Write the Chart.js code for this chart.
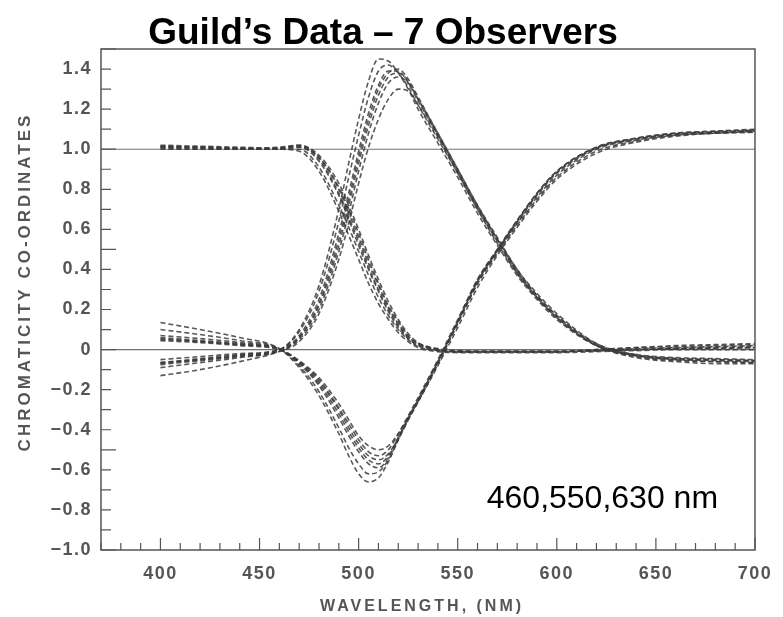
<!DOCTYPE html>
<html lang="en">
<head>
    <meta charset="UTF-8">
    <title>Guild's Data - 7 Observers</title>
    <script src="https://cdn.jsdelivr.net/npm/chart.js"></script>
    <style>
        body {
            margin: 0;
            padding: 0;
            background-color: #fff;
        }
        canvas {
            display: block;
        }
    </style>
</head>
<body>
    <canvas id="guildChart" width="783" height="617"></canvas>

    <script>
        // wavelength grid (nm) the curves were read at
        const wavelengths = [400, 420, 440, 460, 470, 480, 490, 495, 500, 505, 510, 515, 520, 525, 530,
                             540, 550, 560, 570, 580, 590, 600, 620, 640, 660, 680, 700];

        // g (550 nm primary) - one array per observer
        const g1 = [-0.05, -0.035, -0.02, 0.0, 0.10, 0.32, 0.70, 0.93, 1.15, 1.34, 1.45, 1.44, 1.38, 1.30, 1.20,
                    1.03, 0.86, 0.68, 0.52, 0.37, 0.25, 0.15, 0.02, -0.025, -0.04, -0.045, -0.05];
        const g2 = [-0.065, -0.045, -0.025, 0.0, 0.09, 0.29, 0.64, 0.86, 1.07, 1.26, 1.39, 1.42, 1.38, 1.31, 1.22,
                    1.05, 0.88, 0.70, 0.53, 0.38, 0.26, 0.16, 0.025, -0.03, -0.045, -0.05, -0.055];
        const g3 = [-0.065, -0.05, -0.03, -0.005, 0.07, 0.25, 0.58, 0.78, 0.99, 1.18, 1.32, 1.39, 1.39, 1.33, 1.24,
                    1.07, 0.89, 0.71, 0.55, 0.39, 0.27, 0.17, 0.02, -0.03, -0.05, -0.055, -0.06];
        const g4 = [-0.07, -0.05, -0.03, -0.005, 0.06, 0.23, 0.55, 0.75, 0.96, 1.15, 1.30, 1.38, 1.40, 1.35, 1.26,
                    1.08, 0.90, 0.72, 0.55, 0.40, 0.27, 0.17, 0.03, -0.025, -0.045, -0.05, -0.055];
        const g5 = [-0.075, -0.055, -0.035, -0.005, 0.06, 0.22, 0.52, 0.72, 0.93, 1.12, 1.27, 1.36, 1.38, 1.34, 1.25,
                    1.07, 0.89, 0.71, 0.55, 0.39, 0.26, 0.16, 0.02, -0.035, -0.055, -0.06, -0.065];
        const g6 = [-0.09, -0.065, -0.04, -0.008, 0.05, 0.20, 0.49, 0.68, 0.89, 1.08, 1.23, 1.33, 1.36, 1.33, 1.25,
                    1.08, 0.90, 0.72, 0.56, 0.40, 0.28, 0.18, 0.03, -0.03, -0.05, -0.06, -0.065];
        const g7 = [-0.13, -0.10, -0.06, -0.01, 0.04, 0.18, 0.45, 0.63, 0.83, 1.01, 1.15, 1.25, 1.30, 1.29, 1.22,
                    1.06, 0.88, 0.70, 0.54, 0.38, 0.26, 0.16, 0.02, -0.04, -0.06, -0.07, -0.07];

        // r (630 nm primary)
        const r1 = [0.135, 0.10, 0.06, 0.005, -0.09, -0.23, -0.42, -0.53, -0.62, -0.66, -0.64, -0.56, -0.45, -0.35, -0.26,
                    -0.07, 0.13, 0.33, 0.48, 0.62, 0.75, 0.86, 0.99, 1.04, 1.07, 1.08, 1.085];
        const r2 = [0.10, 0.075, 0.045, 0.004, -0.08, -0.21, -0.39, -0.49, -0.57, -0.62, -0.61, -0.55, -0.45, -0.35, -0.25,
                    -0.06, 0.14, 0.34, 0.49, 0.63, 0.76, 0.87, 1.0, 1.045, 1.07, 1.08, 1.09];
        const r3 = [0.07, 0.055, 0.035, 0.003, -0.07, -0.18, -0.34, -0.43, -0.51, -0.57, -0.59, -0.54, -0.44, -0.34, -0.25,
                    -0.06, 0.14, 0.34, 0.495, 0.64, 0.775, 0.885, 1.005, 1.05, 1.075, 1.085, 1.09];
        const r4 = [0.06, 0.045, 0.03, 0.002, -0.065, -0.17, -0.32, -0.41, -0.49, -0.55, -0.57, -0.53, -0.44, -0.35, -0.26,
                    -0.07, 0.13, 0.33, 0.49, 0.635, 0.77, 0.88, 1.005, 1.05, 1.075, 1.085, 1.095];
        const r5 = [0.055, 0.04, 0.025, 0.002, -0.06, -0.16, -0.30, -0.39, -0.47, -0.53, -0.55, -0.52, -0.44, -0.34, -0.25,
                    -0.06, 0.14, 0.35, 0.50, 0.645, 0.78, 0.89, 1.01, 1.055, 1.08, 1.09, 1.095];
        const r6 = [0.05, 0.04, 0.025, 0.002, -0.06, -0.15, -0.29, -0.37, -0.45, -0.51, -0.53, -0.50, -0.42, -0.33, -0.24,
                    -0.05, 0.15, 0.35, 0.50, 0.645, 0.78, 0.89, 1.01, 1.055, 1.08, 1.09, 1.10];
        const r7 = [0.045, 0.035, 0.02, 0.0, -0.055, -0.14, -0.27, -0.35, -0.43, -0.48, -0.50, -0.48, -0.42, -0.34, -0.26,
                    -0.08, 0.11, 0.31, 0.47, 0.61, 0.74, 0.85, 0.98, 1.035, 1.065, 1.08, 1.085];

        // b (460 nm primary)
        const b1 = [1.015, 1.01, 1.005, 1.0, 0.99, 0.89, 0.69, 0.57, 0.45, 0.33, 0.23, 0.15, 0.085, 0.04, 0.01,
                    -0.01, -0.015, -0.015, -0.015, -0.015, -0.015, -0.015, -0.01, -0.005, 0.0, 0.0, 0.0];
        const b2 = [1.01, 1.005, 1.0, 1.0, 1.0, 0.91, 0.72, 0.61, 0.49, 0.37, 0.26, 0.17, 0.10, 0.05, 0.015,
                    -0.005, -0.01, -0.01, -0.01, -0.01, -0.01, -0.01, -0.005, 0.005, 0.01, 0.015, 0.02];
        const b3 = [1.02, 1.015, 1.01, 1.005, 1.01, 0.94, 0.77, 0.65, 0.52, 0.40, 0.29, 0.19, 0.11, 0.055, 0.02,
                    -0.005, -0.01, -0.01, -0.01, -0.01, -0.01, -0.01, 0.0, 0.01, 0.02, 0.025, 0.03];
        const b4 = [1.005, 1.0, 1.0, 1.005, 1.015, 0.95, 0.78, 0.66, 0.54, 0.41, 0.30, 0.20, 0.12, 0.06, 0.025,
                    0.0, -0.01, -0.01, -0.01, -0.01, -0.01, -0.01, -0.005, 0.0, 0.005, 0.01, 0.01];
        const b5 = [1.0, 1.0, 1.0, 1.005, 1.02, 0.96, 0.80, 0.68, 0.56, 0.43, 0.32, 0.21, 0.13, 0.065, 0.03,
                    0.0, -0.01, -0.01, -0.01, -0.01, -0.01, -0.01, -0.005, 0.0, 0.005, 0.005, 0.01];
        const b6 = [1.015, 1.01, 1.005, 1.0, 1.01, 0.96, 0.81, 0.70, 0.58, 0.45, 0.33, 0.22, 0.14, 0.07, 0.03,
                    0.0, -0.01, -0.01, -0.01, -0.01, -0.01, -0.01, -0.005, 0.0, 0.005, 0.01, 0.015];
        const b7 = [1.01, 1.01, 1.005, 1.01, 1.02, 0.97, 0.83, 0.72, 0.60, 0.47, 0.35, 0.24, 0.15, 0.08, 0.035,
                    0.005, -0.005, -0.01, -0.01, -0.01, -0.01, -0.01, 0.0, 0.01, 0.015, 0.02, 0.025];

        const gSeries = [g1, g2, g3, g4, g5, g6, g7];
        const rSeries = [r1, r2, r3, r4, r5, r6, r7];
        const bSeries = [b1, b2, b3, b4, b5, b6, b7];

        const refLevels = [0, 1.0];
        const xMin = 370, xMax = 700;
        const yMin = -1.0, yMax = 1.5;

        const axisGray = '#555';
        const curveColor = 'rgba(60, 60, 60, 0.85)';
        const sansFamily = '"Liberation Sans", Arial, sans-serif';

        const datasets = [];

        refLevels.forEach(level => {
            datasets.push({
                label: 'ref ' + level,
                data: [{ x: xMin, y: level }, { x: xMax, y: level }],
                borderColor: '#707070',
                borderWidth: 1.1,
                pointRadius: 0,
                order: 2
            });
        });

        [['r', rSeries], ['g', gSeries], ['b', bSeries]].forEach(([name, list]) => {
            list.forEach((values, i) => {
                datasets.push({
                    label: name + ' observer ' + (i + 1),
                    data: wavelengths.map((w, k) => ({ x: w, y: values[k] })),
                    borderColor: curveColor,
                    borderWidth: 1.6,
                    borderDash: [5, 3],
                    pointRadius: 0,
                    cubicInterpolationMode: 'monotone',
                    order: 1
                });
            });
        });

        // the old print uses slightly tracked lettering on the tick labels
        const tracking = {
            id: 'tracking',
            beforeDraw(chart) {
                chart.ctx.letterSpacing = '1.5px';
            }
        };

        // frame, inward tick marks, titles and the primaries note
        const decorations = {
            id: 'decorations',
            afterDraw(chart) {
                const { ctx, chartArea, scales } = chart;
                const xs = scales.x, ys = scales.y;
                ctx.save();

                ctx.strokeStyle = '#555';
                ctx.lineWidth = 1.5;
                ctx.strokeRect(chartArea.left, chartArea.top,
                               chartArea.right - chartArea.left, chartArea.bottom - chartArea.top);

                ctx.lineWidth = 1.2;
                ctx.beginPath();
                xs.ticks.forEach(t => {
                    const px = xs.getPixelForValue(t.value);
                    const len = Math.round(t.value) % 50 === 0 ? 12 : 7;
                    ctx.moveTo(px, chartArea.bottom);
                    ctx.lineTo(px, chartArea.bottom - len);
                });
                ys.ticks.forEach(t => {
                    const py = ys.getPixelForValue(t.value);
                    const tenth = Math.round(t.value * 10);
                    const len = tenth % 5 === 0 ? 15 : 10;
                    ctx.moveTo(chartArea.left, py);
                    ctx.lineTo(chartArea.left + len, py);
                });
                ctx.stroke();

                ctx.fillStyle = axisGray;
                ctx.textAlign = 'center';
                ctx.textBaseline = 'middle';

                ctx.font = 'bold 16px ' + sansFamily;
                ctx.letterSpacing = '3px';
                ctx.fillText('WAVELENGTH, (NM)', (chartArea.left + chartArea.right) / 2 - 6, 607);

                ctx.save();
                ctx.translate(25, 282);
                ctx.rotate(-Math.PI / 2);
                ctx.font = 'bold 17px ' + sansFamily;
                ctx.letterSpacing = '3px';
                ctx.fillText('CHROMATICITY CO-ORDINATES', 0, 0);
                ctx.restore();

                ctx.letterSpacing = '0px';
                ctx.fillStyle = '#000';
                ctx.font = '32px ' + sansFamily;
                ctx.fillText('460,550,630 nm', xs.getPixelForValue(623), ys.getPixelForValue(-0.745));

                ctx.textBaseline = 'alphabetic';
                ctx.font = 'bold 37px ' + sansFamily;
                ctx.fillText('Guild\u2019s Data \u2013 7 Observers', 383, 44);

                ctx.restore();
            }
        };

        const tickFont = { family: sansFamily, size: 18, weight: 'bold' };

        new Chart(document.getElementById('guildChart'), {
            type: 'line',
            data: { datasets },
            options: {
                responsive: false,
                animation: false,
                devicePixelRatio: 1,
                layout: { padding: { left: 0, right: 19, top: 49, bottom: 0 } },
                plugins: {
                    legend: { display: false },
                    tooltip: { enabled: false },
                    title: { display: false }
                },
                scales: {
                    x: {
                        type: 'linear',
                        min: xMin,
                        max: xMax,
                        grid: { display: false, drawTicks: false },
                        border: { display: false },
                        ticks: {
                            stepSize: 10,
                            autoSkip: false,
                            maxRotation: 0,
                            padding: 13,
                            color: axisGray,
                            font: tickFont,
                            callback: v => (v % 50 === 0 && v >= 400) ? String(v) : ''
                        },
                        afterFit: s => { s.height = 67; }
                    },
                    y: {
                        min: yMin,
                        max: yMax,
                        grid: { display: false, drawTicks: false },
                        border: { display: false },
                        ticks: {
                            stepSize: 0.1,
                            autoSkip: false,
                            padding: 9,
                            color: axisGray,
                            font: tickFont,
                            callback: v => {
                                const t = Math.round(v * 10);
                                if (t % 2 !== 0 || t > 14) return '';
                                if (t === 0) return '0';
                                return (t < 0 ? '\u2212' : '') + (Math.abs(t) / 10).toFixed(1);
                            }
                        },
                        afterFit: s => { s.width = 101; }
                    }
                }
            },
            plugins: [tracking, decorations]
        });
    </script>
</body>
</html>
